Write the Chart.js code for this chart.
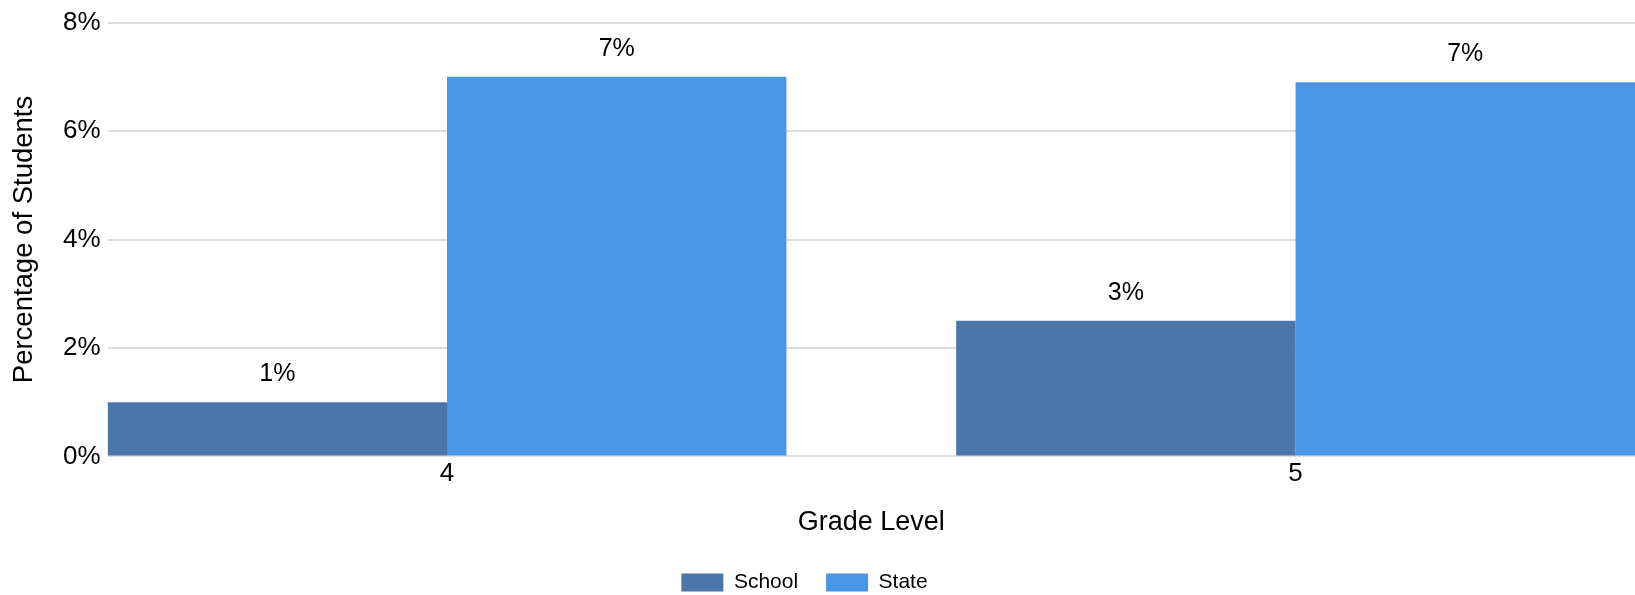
<!DOCTYPE html>
<html>
<head>
<meta charset="utf-8">
<script src="https://cdn.jsdelivr.net/npm/chart.js@4"></script>
<style>
  html, body { margin: 0; padding: 0; background: #fff; }
  #wrap { width: 1635px; height: 595px; }
</style>
</head>
<body>
<div id="wrap"><canvas id="grafico"></canvas></div>
<script>
const grades = [4, 5];
const school = [1.0, 2.5];
const state = [7.0, 6.9];
const yTicks = [0, 2, 4, 6, 8];

const fonte = '"Liberation Sans", Arial, sans-serif';

// desenha os rótulos "x%" em cima de cada barra
const rotulos = {
  id: 'rotulos',
  afterDatasetsDraw(chart) {
    const ctx = chart.ctx;
    ctx.save();
    ctx.font = '25px ' + fonte;
    ctx.fillStyle = '#000';
    ctx.textAlign = 'center';
    ctx.textBaseline = 'middle';
    chart.data.datasets.forEach((ds, i) => {
      chart.getDatasetMeta(i).data.forEach((bar, j) => {
        ctx.fillText(Math.round(ds.data[j]) + '%', bar.x, bar.y - 28);
      });
    });
    ctx.restore();
  }
};

// empurra a legenda um pouco (esquerda / baixo) como no original
const ajusteLegenda = {
  id: 'ajusteLegenda',
  afterLayout(chart) {
    const lg = chart.legend;
    lg.left -= 17; lg.right -= 17;
    lg.top += 5; lg.bottom += 5;
  }
};

const ctx = document.getElementById('grafico').getContext('2d');

new Chart(ctx, {
  type: 'bar',
  data: {
    labels: grades,
    datasets: [{
      label: 'School',
      data: school,
      backgroundColor: '#4a77a9',
      barPercentage: 1.0,
      categoryPercentage: 0.8
    }, {
      label: 'State',
      data: state,
      backgroundColor: '#4a96e6',
      barPercentage: 1.0,
      categoryPercentage: 0.8
    }]
  },
  options: {
    responsive: true,
    maintainAspectRatio: false,
    animation: false,
    layout: { padding: { left: 8, right: 0, top: 6, bottom: -3 } },
    plugins: {
      legend: {
        position: 'bottom',
        labels: {
          boxWidth: 42,
          boxHeight: 18,
          padding: 28,
          color: '#000',
          font: { size: 21, family: fonte }
        }
      },
      tooltip: { enabled: false }
    },
    scales: {
      x: {
        type: 'linear',
        min: 3.6,
        max: 5.4,
        offset: false,
        afterBuildTicks: (axis) => {
          axis.ticks = grades.map(g => ({ value: g }));
        },
        grid: { display: false, drawTicks: false },
        border: { display: false },
        ticks: {
          padding: 2,
          color: '#000',
          font: { size: 26, family: fonte },
          callback: (v) => String(v)
        },
        title: {
          display: true,
          text: 'Grade Level',
          color: '#000',
          padding: { top: 15, bottom: 0 },
          font: { size: 27, family: fonte }
        }
      },
      y: {
        min: 0,
        max: 8,
        afterBuildTicks: (axis) => {
          axis.ticks = yTicks.map(v => ({ value: v }));
        },
        grid: { color: '#dddddd', lineWidth: 2, drawTicks: false },
        border: { display: false },
        ticks: {
          padding: 7,
          color: '#000',
          font: { size: 26, family: fonte },
          callback: (v) => v + '%'
        },
        title: {
          display: true,
          text: 'Percentage of Students',
          color: '#000',
          padding: { top: 0, bottom: 15 },
          font: { size: 27.5, family: fonte }
        }
      }
    }
  },
  plugins: [rotulos, ajusteLegenda]
});
</script>
</body>
</html>
